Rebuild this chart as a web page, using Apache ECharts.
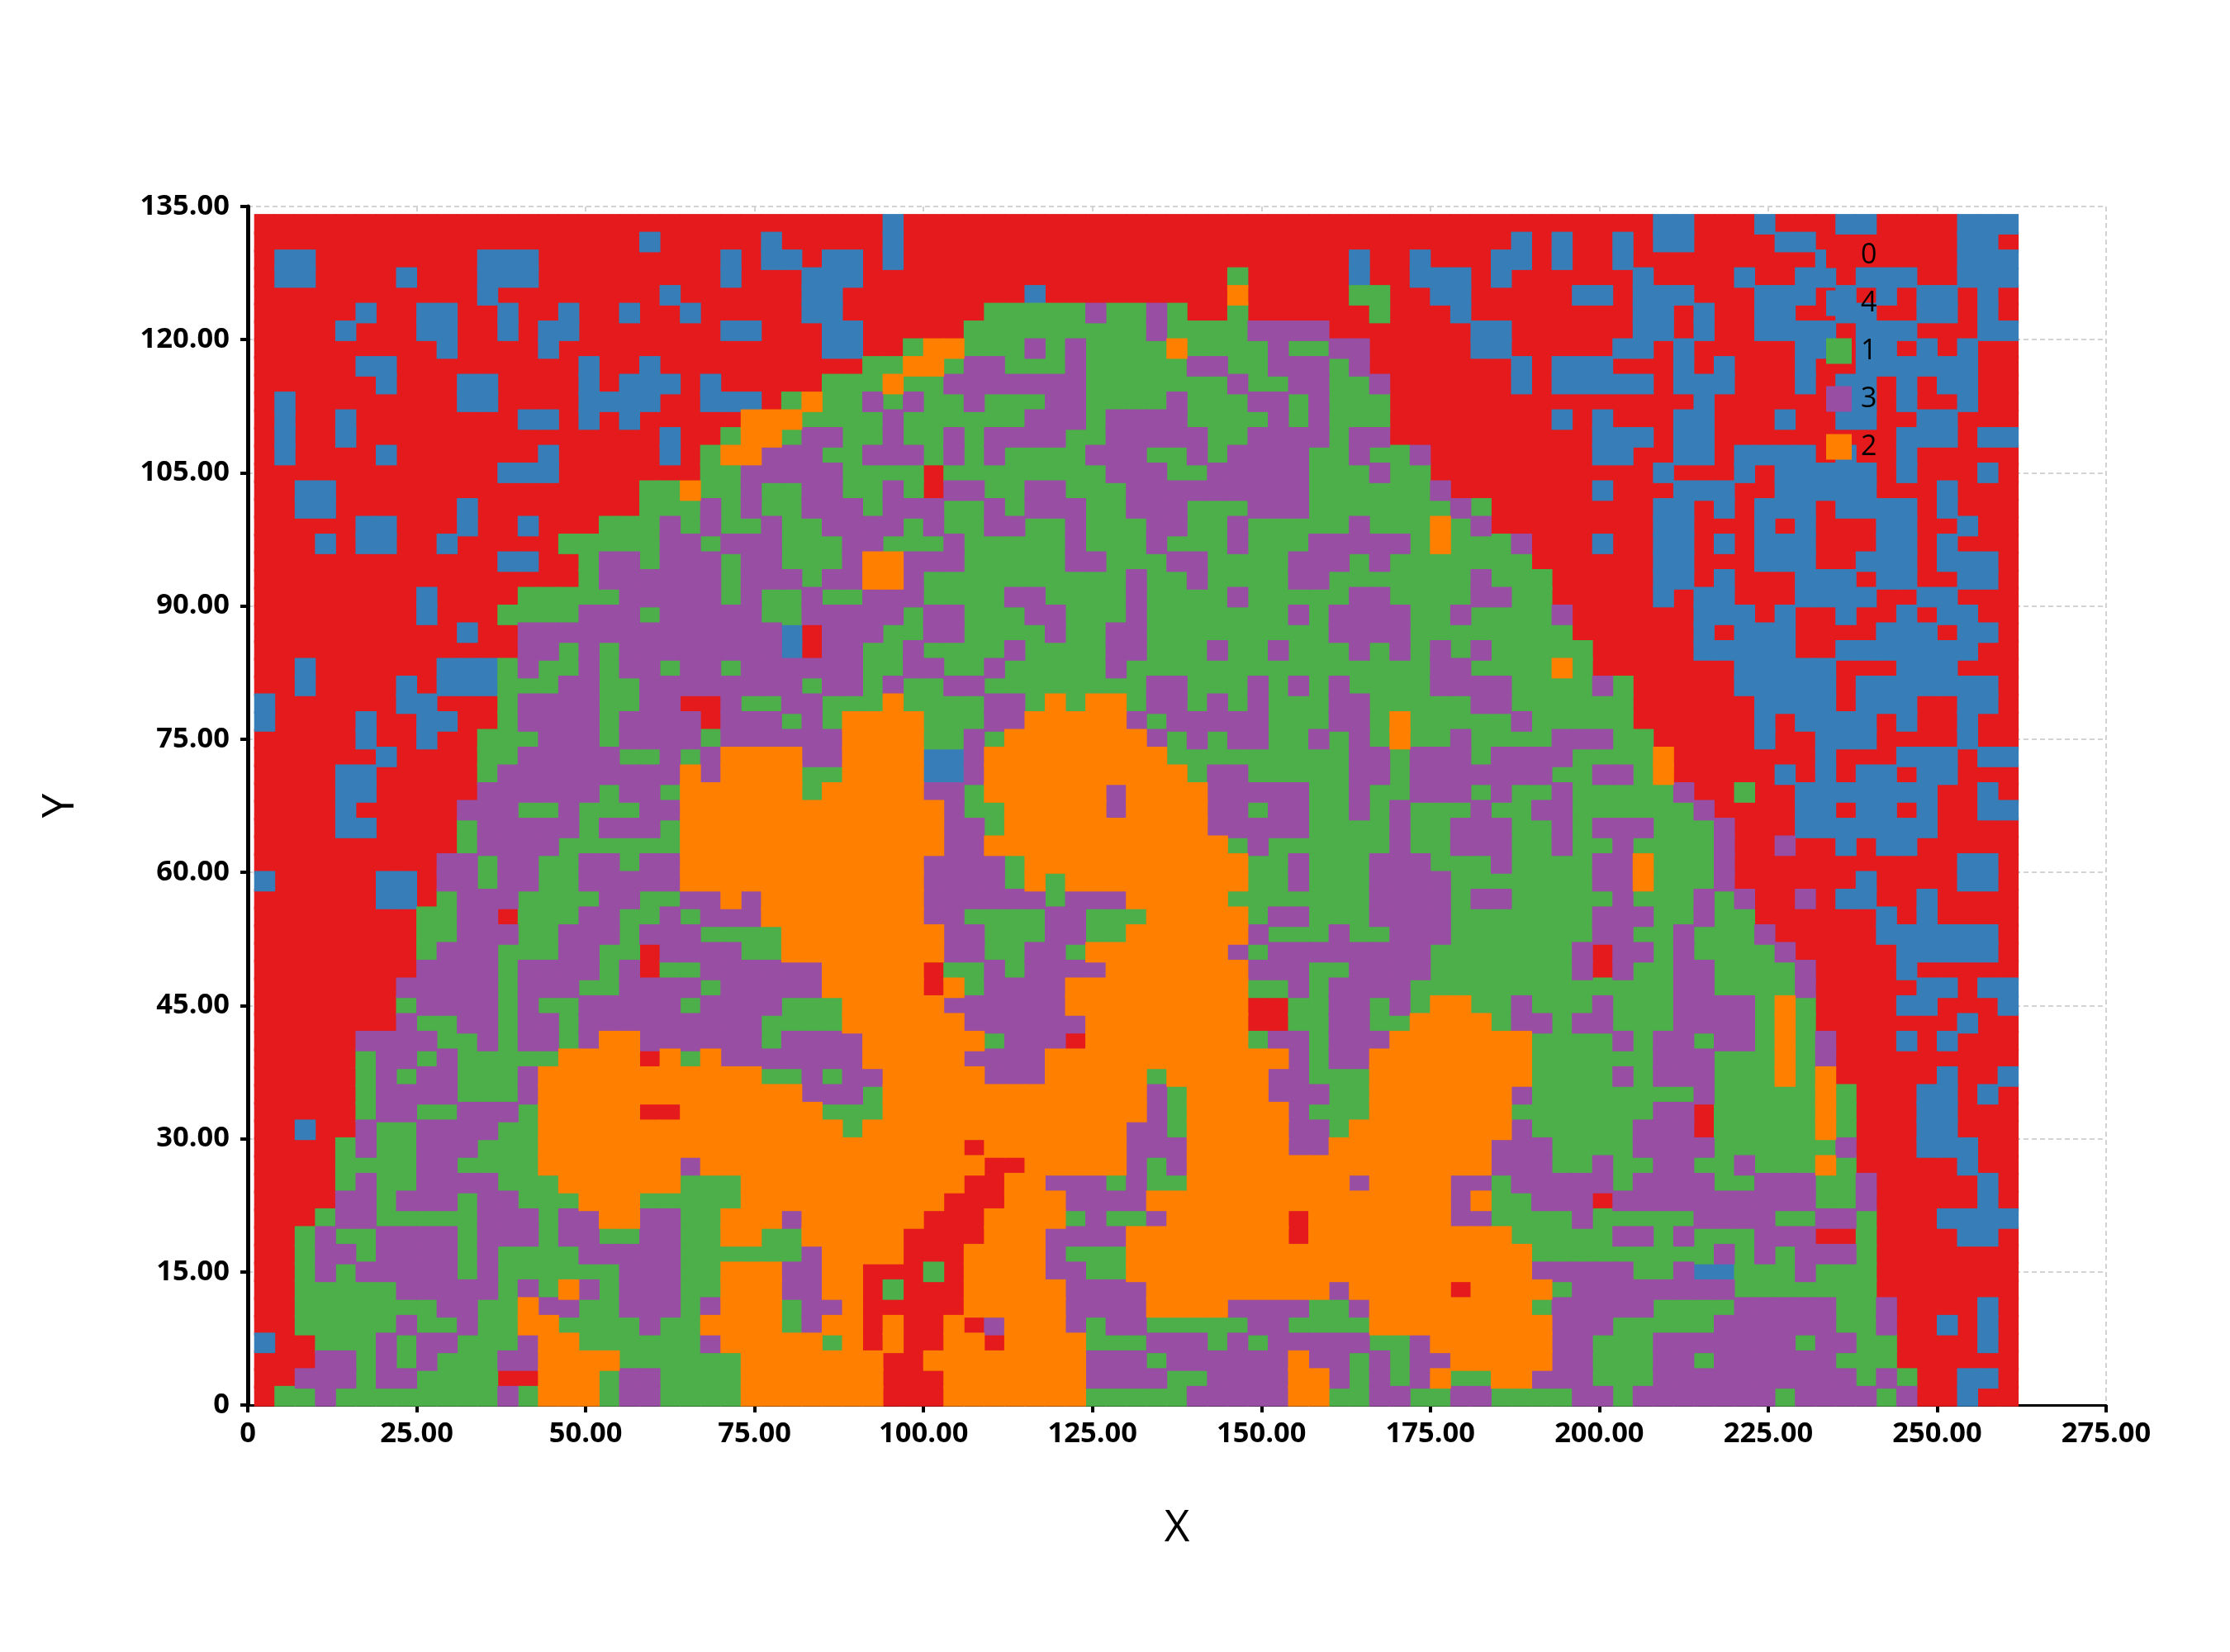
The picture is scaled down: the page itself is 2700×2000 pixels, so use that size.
<!DOCTYPE html>
<html>
<head>
<meta charset="utf-8">
<script src="https://cdn.jsdelivr.net/npm/echarts@6/dist/echarts.min.js"></script>
<style>html,body{margin:0;padding:0;background:#fff}#c{width:2700px;height:2000px}</style>
</head>
<body>
<div id="c"></div>
<script>
const seriesNames = ['0','4','1','3','2'];
const seriesKeys = ['r','b','g','p','o'];
const seriesColors = ['#e41a1c','#377eb8','#4daf4a','#984ea3','#ff7f00'];
const xValues = [2.5,5.5,8.5,11.5,14.5,17.5,20.5,23.5,26.5,29.5,32.5,35.5,38.5,41.5,44.5,47.5,50.5,53.5,56.5,59.5,62.5,65.5,68.5,71.5,74.5,77.5,80.5,83.5,86.5,89.5,92.5,95.5,98.5,101.5,104.5,107.5,110.5,113.5,116.5,119.5,122.5,125.5,128.5,131.5,134.5,137.5,140.5,143.5,146.5,149.5,152.5,155.5,158.5,161.5,164.5,167.5,170.5,173.5,176.5,179.5,182.5,185.5,188.5,191.5,194.5,197.5,200.5,203.5,206.5,209.5,212.5,215.5,218.5,221.5,224.5,227.5,230.5,233.5,236.5,239.5,242.5,245.5,248.5,251.5,254.5,257.5,260.5];
const yValues = [133,131,129,127,125,123,121,119,117,115,113,111,109,107,105,103,101,99,97,95,93,91,89,87,85,83,81,79,77,75,73,71,69,67,65,63,61,59,57,55,53,51,49,47,45,43,41,39,37,35,33,31,29,27,25,23,21,19,17,15,13,11,9,7,5,3,1];
// One string per row (top to bottom): class letter followed by the last column index of that run.
const classRuns = [
"r30b31r68b70r73b74r77b79r83b86",
"r18b19r24b25r30b31r61b62r63b64r66b67r68b70r74b76r83b85r86",
"r0b2r10b13r22b23r24b26r27b29r30b31r53b54r56b57r60b62r63b64r66b67r76b77r83b86",
"r0b2r6b7r10b13r22b23r26b29r47g48r53b54r56b59r60b61r67b68r72b73r75b77r78b81r83b86",
"r10b11r19b20r26b28r37b38r47o48r53g55r57b59r64b66r67b70r73b76r77b78r79b80r81b83r84b85r86",
"r4b5r7b9r11b12r14b15r17b18r20b21r26b28r35g40p41g43p44g45r47g48r54g55r58b59r67b69r70b71r73b75r77b79r81b83r84b85r86",
"r3b4r7b9r11b12r13b15r22b24r27b29r34g43p44g48p52r59b61r67b69r70b71r73b77r78b81r84b86",
"r8b9r13b14r27b29r31g32o34g37p38g39p40g44o45g49p50g52p54r59b61r66b68r69b70r75b77r78b80r81b82r83b84r86",
"r4b6r15b16r18b19r29g31o33g34p36g39p40g45p47g49p52g53p54r61b62r63b66r69b70r71b72r75b76r78b84r86",
"r5b6r9b11r15b16r17b20r21b22r27g30o31g33p40g47p48g50p52g54p55r61b62r63b68r69b72r75b76r77b79r80b81r82b84r86",
"r0b1r9b11r15b19r21b24r25g26o27g29p30g31p32g34p35g38p40g44p45g48p50g51p52g55r70b71r77b79r80b81r83b84r86",
"r0b1r3b4r12b14r15b16r17b18r23o26g30p31g37p40g41p45g49p50g51p52g55r63b64r65b66r69b71r74b75r77b79r81b83r86",
"r0b1r3b4r19b20r22g23o25g26p28g30p31g33p34g35p39g41p46g48p52g53p55r65b68r69b71r80b83r84b86",
"r0b1r5b6r13b14r19b20r21g22o24p27g29p32g33p34g35p36g40p43g45p46g47p51g53p54g56p57r65b67r69b71r72b76r77b78r80b81r86",
"r11b14r21g23p28g32r33g41p44g46p51g54p55g57r68b69r72b73r74b79r80b81r84b85r86",
"r1b3r18g20o21g23p24g26p28g30p31g32r33p35g37p39g42p51g57p58r65b66r69b72r74b79r82b83r86",
"r1b3r9b10r18g21p22g23p24g26p29g30p33g35p36g37p40g42p45g48p51g58p59g60r68b70r71b72r73b76r77b81r82b83r86",
"r4b6r9b10r12b13r16g19p20g21p22g24p25g27p31g32p33g35p37g39p40g43p45g47p48g53p54g57o58g59p60r68b70r73b74r75b76r79b81r83b84r86",
"r2b3r4b6r8b9r14g19p21g22p25g28p30g33p34g39p40g43p44g47p48g51p56g57o58g61p62r65b66r68b70r71b72r73b76r79b81r82b83r86",
"r11b13r15g16p18g19p22g23p25g28p29o31p34g39p41g44p46g50p53g54p55g62r68b70r73b76r78b81r82b85r86",
"r15g16p22g23p26g27p29o31p32g42p43g45p46g50p52g59p60g63r68b70r71b72r75b78r79b81r83b85r86",
"r7b8r12g17p22g23p24g26p27g29p32g36p38g42p43g47p48g53p55g59p61g63r68b69r70b72r75b79r81b83r86",
"r7b8r11g15p18g19p24g26p31g32p34g37p39g42p43g50p51g52p56g58p59g63p64r70b73r74b75r77b78r80b81r82b84r86",
"r9b10r12p25b26r27p30g32p34g38p39g41p43g52p56g64r70b71r72b75r79b82r83b85r86",
"r12p14g15p16g17p25b26r27p29g31p32g36p37g41p43g46p47g49p50g53p54g55p56g57p58g59p60g65r70b75r77b84r86",
"r1b2r8b11g12p13g15p16g17p19g20p22g23p29g31p33g35p36g41p42g57p59g63o64g65r72b77r80b83r86",
"r1b2r6b7r8b11g14p16g18p26g27p29g30p31g33p35g43p45g48p49g50p51g52p53g57p61g65p66g67r72b77r78b85r86",
"b0r6b8r11g12p16g18p20r22p23g25p27g30o31g35p37g38o39g40o42g43p45g46p47g48p49g52p54g59p61g67r73b77r78b81r83b85r86",
"b0r4b5r7b9r11g12p16g17p21r22p25g26p27g28o32g35p37o42p43g44p49g52p54g55o56g61p62g67r73b74r75b79r80b81r83b84r86",
"r4b5r7b8r10g13p16g17p21g22p28o32g34p35g36o43p44g45p46g47p49g51p52g53p54g55o56g58p59g63p66g68r73b74r76b79r83b84r86",
"r5b6r10g12p17g19p20g21p22o26p28o32b34p35o44g53p55g56p59g60p64g68o69r76b77r80b83r84b86",
"r3b5r10g11p20o21p22o26g28o32b34p35o45g46p48g53p55g56p63g65p67g68o69r74b75r76b77r78b80r81b83r86",
"r3b5r10p16g17p19g20o26g27o32p34g35o41p42o46p51g53p54g56p59g60p61g63p64g69p70r72g73r75b82r84b85r86",
"r3b4r9p12g14p15g18p20o33p34g36o41p42o46p48g49p51g53p54g55p56g59p60g62p64g70p71r75b77r78b80r81b82r84b86",
"r3b5r9g10p15g16p19g20o33p35g36o46p51g55p56g58p61g63p64g65p68g71p72r75b82r86",
"r9g10p14g20o33p35o47g48p49g55p56g58p61g63p64g66p67g71p72r74p75r77b78r79b81r86",
"r8p10g11p13g15p17g18p20o32p36g37o48g50p51g54p57g60p61g65p67o68g71p72r83b85r86",
"b0r5b7r8p10g11p13g15p20o32p36g37o38g39o48g50p51g54p58g65p67o68g71p72r78b79r83b85r86",
"r5b7r8g9p12g16p18g20p22o23p24o32p38g39p42o47g54p58g59p61g66p67g70p71g72p73r75p76r77b79r81b82r86",
"r7g9p11r12g15p17g19p20g21p24o32p34g38p40g43o48g49p51g54p58g65p68g70p71g73r79b80r81b82r86",
"r7g9p12g14p17g18p21g25o33p35g38p40g42o48p49g52p53g55p58g65p67g69p70g73p74r79b85r86",
"r7g8p11g14p16g18r19p23g25o33p35g37p39g40o47p48g49p57g64p65r66p68g69p70g74p75r80b85r86",
"r7p11g12p16g17p18r19g21p27o32r33g35p36g37p41o48p51g53p57g64p65r66p67g69p71g75p76r80b81r86",
"r6p11g12p15g17p21g22p27o32r33o34g35p39o48g50p51g52p56g69p71g75p76r81b83r84b86",
"r6g7p11g12p13g15p20g21p25g28o33p39o48r50g52p54g55p56g57o59g61p62g65p66g69p73g74o75g76r80b82r85b86",
"r6p7g9p11g12p14g15p24g28o34p40o48r50g52p54g56o60g61p63g64p66g69p73g74o75g76r83b84r86",
"r4p8g10p11g12p14g15p16o18p24g25p29o35g36p39r40o48g49p51g52p55o62g66p67g68p70g71p73g74o75g76p77r80b81r82b83r86",
"r4g5p7g8p9g14o18r19o20g21o22p29o34p38o50p51g52p54o62g68p71g74o75g76p77r86",
"r4g5p6g7p9g12p13o24g26p27g28p30o35p38o43g44o49p51g54o62g66p67g68p71g74o75g76o77r82b83r85b86",
"r4g5p9g12p13o26p29g30o43p44g45o49p52g54o61p62g70p71g76o77g78r81b83r84b85r86",
"r4g5p7g9p12g13o18r20o27g30o43p44g45o50p51g54o61g68p70r71g76o77g78r81b83r86",
"r1b2r4p5g7p11g13o28g29o42p44g45o50p52g53o61p62g67p70r71g76o77g78r81b83r86",
"r3g4p5g7p10g13o34r35o42p45o50p52o60p63g67p71g77p78r81b84r86",
"r3g7p9g13o20p21o35r37o42p43g44p45o60p63g65p66g68p70g72p73g76o77g78r83b84r86",
"r3g4p5g7p11g14o20g23o34r36o38p41g42p43g45o53p54o58p60g61p66g67p71g73p76g78p79r84b85r86",
"r3p5g6p9g10p12g15o18g23o33r36o39p43o58p59o60g62p65r66p76g78p79r84b85r86",
"r2g3p5g10p13g14p16o18p20g22o25p26o32r35o39g40p41g43p44o50r51o58p60g64p65g70p74g76p78g79r82b86",
"r1g2p3g5p9g10p13g14p16g18p20g22o24g26o31r35o38p42o50r51o61g66p68g69p70g73p76r78g79r83b85r86",
"r1g2p4g5p9g10p11g15p20g26p27o31r34o38p39g42o62g71p72g73p74g75p78g79r86",
"r1g2p3g4p9g10p11g17p20g22o25p27o29r32g33r34o38p40g42o62p67g69p70b72g75p76g79r86",
"r1g6p11g12p13g14o15p16g17p20g22o25p27o29r30g31r34o39p43o52p53o58r59o63g64p72g79r86",
"r1g8p10g12o13p15g17p20g21p22o25g26p28o29r34o39p43o47p51g53p54o62g63p68g72p77g79p80r84b85r86",
"r1g6p7g9p10g12o14g18p19g21o25g26p27o29r30o31r33o34r35p36o39p40g41p43g48p50g54o63p66g71p77g79p80r82b83r84b85r86",
"b0r2g5p6g7p9g12p13o15g21p22o27g28o29r30o31r33o35r36o40g43p46g47p48g49p54g56p57o63p65g68p75g76p78g80r84b85r86",
"r2p4g5p6g7p8g11p13o17g23o30r32o40p43g44p50o51p53g54p55g56p58o63p65g68p70g71p77g80r86",
"r1p4g5p7g11r13o16g17p19g23o30r33o40p44g46p50o52p53g54p55g56p57o58g60o62p65g68p78g79p80g81r83b85r86",
"r0g2p3g11p12g13o16g17p19g23o30r33o40g45p50o52g54p56g58p60g64p66g67p74g75p79g80p81r83b84r86"
];

const pointsByClass = seriesKeys.map(() => []);
classRuns.forEach((row, j) => {
  let col = 0;
  for (const m of row.matchAll(/([rbgpo])(\d+)/g)) {
    const k = seriesKeys.indexOf(m[1]);
    for (const end = +m[2]; col <= end; col++) pointsByClass[k].push([xValues[col], yValues[j]]);
  }
  if (col !== xValues.length) console.error('row', j, 'has', col, 'columns');
});

const chart = echarts.init(document.getElementById('c'), null, {renderer: 'canvas'});
const FONT = '"Open Sans", "Noto Sans", sans-serif';
const gridLine = {show: true, lineStyle: {color: '#d3d3d3', width: 2, type: [6, 4]}};
const axisBase = {
  type: 'value', nameLocation: 'middle',
  nameTextStyle: {fontFamily: FONT, fontSize: 53, color: '#000'},
  axisTick: {show: true, length: 9, lineStyle: {color: '#000', width: 4}},
  axisLabel: {show: true, fontFamily: FONT, fontWeight: 'bold', fontSize: 34.5, color: '#000',
              formatter: v => v === 0 ? '0' : v.toFixed(2)},
  splitLine: gridLine
};
chart.setOption({
  animation: false,
  backgroundColor: '#fff',
  color: seriesColors,
  grid: {left: 300, right: 150, top: 250, bottom: 299},
  legend: {
    orient: 'vertical', left: 2211, top: 292, padding: 0, itemWidth: 31, itemHeight: 31, itemGap: 24,
    icon: 'rect', data: seriesNames, selectedMode: false,
    textStyle: {fontFamily: FONT, fontSize: 34, color: '#000', lineHeight: 31, padding: [0, 0, 0, 6]}
  },
  xAxis: Object.assign({}, axisBase, {
    name: 'X', min: 0, max: 275, interval: 25, nameGap: 123,
    axisLine: {show: true, onZero: false, lineStyle: {color: '#000', width: 3}},
    axisLabel: Object.assign({}, axisBase.axisLabel, {margin: 18})
  }),
  yAxis: Object.assign({}, axisBase, {
    name: 'Y', min: 0, max: 135, interval: 15, nameGap: 200,
    axisLine: {show: true, onZero: false, lineStyle: {color: '#000', width: 5}},
    axisLabel: Object.assign({}, axisBase.axisLabel, {margin: 22})
  }),
  series: seriesNames.map((name, k) => ({
    name, type: 'scatter', symbol: 'rect', symbolSize: [25.5, 24.8], large: false, progressive: 0,
    itemStyle: {color: seriesColors[k], opacity: 1}, clip: false, z: 2 + k,
    data: pointsByClass[k], emphasis: {disabled: true}, silent: true
  }))
});
</script>
</body>
</html>
